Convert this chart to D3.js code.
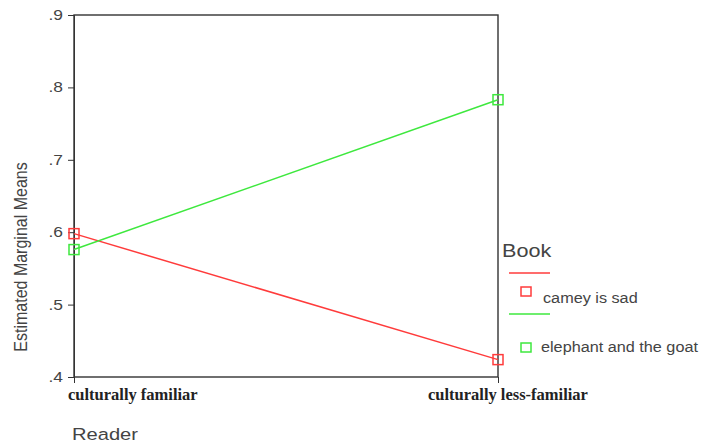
<!DOCTYPE html>
<html>
<head>
<meta charset="utf-8">
<script src="https://cdn.jsdelivr.net/npm/d3@7"></script>
<style>
body{margin:0;background:#fff;}
svg text{font-family:"Liberation Sans",Arial,sans-serif;fill:#444;}
.cat{font-family:"Liberation Serif","Times New Roman",serif;font-weight:bold;fill:#222;}
</style>
</head>
<body>
<svg id="chart" width="701" height="444"></svg>
<script>
// data
var readers = ["culturally familiar", "culturally less-familiar"];
var books = ["camey is sad", "elephant and the goat"];
var cameyMeans = [0.598, 0.424];
var elephantMeans = [0.576, 0.783];
var colors = ["#ff3b3b", "#3ee83e"];
var yTicks = [0.4, 0.5, 0.6, 0.7, 0.8, 0.9];

var svg = d3.select("#chart");
var plotL = 74, plotR = 498, plotT = 15, plotB = 377;

var x = d3.scalePoint().domain(readers).range([plotL, plotR]);
var y = d3.scaleLinear().domain([0.4, 0.9]).range([plotB, plotT]);

// text in the source is a bit stretched sideways
function wideText(g, px, py, sx, txt) {
    return g.append("text").attr("transform", "translate(" + px + "," + py + ") scale(" + sx + ",1)").text(txt);
}

// frame
svg.append("rect").attr("x", plotL).attr("y", plotT)
    .attr("width", plotR - plotL).attr("height", plotB - plotT)
    .attr("fill", "none").attr("stroke", "#333").attr("stroke-width", 1.4);

// y axis
var yAxis = svg.append("g").attr("transform", "translate(" + plotL + ",0)")
    .call(d3.axisLeft(y).tickValues(yTicks).tickSize(6).tickFormat(""));
yAxis.select(".domain").attr("stroke", "#333");
yAxis.selectAll("line").attr("stroke", "#333");
yTicks.forEach(function (t) {
    wideText(svg, plotL - 11, y(t) + 5, 1.2, d3.format(".1f")(t).replace(/^0/, ""))
        .attr("text-anchor", "end").attr("font-size", 14.5).attr("fill", "#555");
});

// x axis ticks
var xAxis = svg.append("g").attr("transform", "translate(0," + plotB + ")")
    .call(d3.axisBottom(x).tickSize(6).tickFormat(""));
xAxis.select(".domain").remove();
xAxis.selectAll("line").attr("stroke", "#333");

// category labels
var catOffsets = [-6, -70];
svg.selectAll(".cat").data(readers).enter().append("text")
    .attr("class", "cat")
    .attr("x", function (d, i) { return x(d) + catOffsets[i]; })
    .attr("y", 400)
    .attr("font-size", 16.5)
    .text(function (d) { return d; });

// axis titles
wideText(svg, 72, 440, 1.22, "Reader").attr("font-size", 16.5).attr("fill", "#555");
svg.append("text").attr("transform", "translate(27,257) rotate(-90) scale(1,1.15)")
    .attr("text-anchor", "middle").attr("font-size", 16).attr("fill", "#555")
    .text("Estimated Marginal Means");

// series
var series = [cameyMeans, elephantMeans];
var line = d3.line().x(function (d, i) { return x(readers[i]); }).y(function (d) { return y(d); });
series.forEach(function (vals, k) {
    svg.append("path").datum(vals).attr("d", line)
        .attr("fill", "none").attr("stroke", colors[k]).attr("stroke-width", 1.5);
    svg.selectAll(".pt" + k).data(vals).enter().append("rect")
        .attr("x", function (d, i) { return x(readers[i]) - 5; })
        .attr("y", function (d) { return y(d) - 5; })
        .attr("width", 10).attr("height", 10)
        .attr("fill", "none").attr("stroke", colors[k]).attr("stroke-width", 1.5);
});

// legend
wideText(svg, 502, 257, 1.2, "Book").attr("font-size", 18).attr("fill", "#444");
var legLineY = [273, 314], legBoxY = [287, 343], legTextY = [303, 352], legTextX = [543, 541];
books.forEach(function (b, k) {
    svg.append("line").attr("x1", 509).attr("x2", 550).attr("y1", legLineY[k]).attr("y2", legLineY[k])
        .attr("stroke", colors[k]).attr("stroke-width", 1.5);
    svg.append("rect").attr("x", 521).attr("y", legBoxY[k])
        .attr("width", 10).attr("height", 9)
        .attr("fill", "none").attr("stroke", colors[k]).attr("stroke-width", 1.5);
    wideText(svg, legTextX[k], legTextY[k], 1.12, b).attr("font-size", 14.5).attr("fill", "#444");
});
</script>
</body>
</html>
